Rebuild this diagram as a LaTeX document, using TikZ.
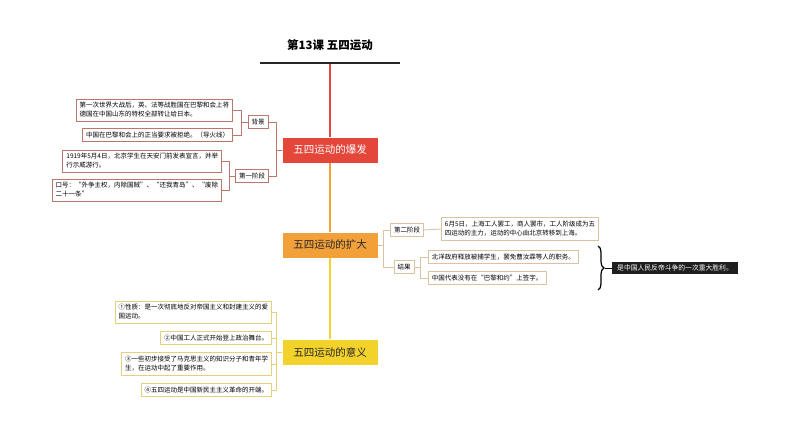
\documentclass[tikz,border=0pt]{standalone}
\usepackage{fontspec}
\setmainfont{Noto Sans CJK SC}
\usetikzlibrary{decorations.pathreplacing}
\definecolor{cred}{HTML}{E4473A}
\definecolor{corg}{HTML}{F2A13A}
\definecolor{cyel}{HTML}{F3D22C}
\definecolor{btan}{HTML}{D9C3A0}
\definecolor{bred}{HTML}{B8796A}
\definecolor{byel}{HTML}{E6D07A}
\begin{document}
\begin{tikzpicture}[x=1pt,y=-1pt,
  leaf/.style={draw=#1,line width=0.9pt,fill=white,font=\fontsize{6.5}{9}\selectfont,align=left,inner sep=3.5pt,anchor=east},
  tag/.style={draw=#1,line width=0.9pt,fill=white,font=\fontsize{6.5}{8}\selectfont,inner sep=3.5pt},
  main/.style={minimum width=95pt,minimum height=25pt,font=\fontsize{10.5}{12}\selectfont},
  con/.style={line width=0.9pt,draw=#1}]
\useasboundingbox (0,0) rectangle (794,425);
\node[font=\bfseries\fontsize{11.5}{12}\selectfont] (title) at (330,45) {第13课 五四运动};
\draw[line width=2.5pt,black!85] (260,63) -- (400,63);
\coordinate (top) at (330,64);
\node[main,fill=cred,text=white] (n1) at (330,150) {五四运动的爆发};
\node[main,fill=corg,text=black!85] (n2) at (330,245) {五四运动的扩大};
\node[main,fill=cyel,text=black!85] (n3) at (330,352) {五四运动的意义};
\draw[cred,line width=1.5pt] (top) -- (n1.north);
\draw[corg,line width=1.5pt] (n1.south) -- (n2.north);
\draw[cyel,line width=1.5pt] (n2.south) -- (n3.north);
% left of n1
\node[tag=bred] (bj) at (258,122) {背景};
\node[tag=bred] (s1) at (252,176) {第一阶段};
\node[leaf=bred] (l1) at (233,110) {第一次世界大战后，英、法等战胜国在巴黎和会上将\\德国在中国山东的特权全部转让给日本。};
\node[leaf=bred] (l2) at (233,135) {中国在巴黎和会上的正当要求被拒绝。（导火线）};
\node[leaf=bred] (l3) at (222,161) {1919年5月4日，北京学生在天安门前发表宣言，并举\\行示威游行。};
\node[leaf=bred] (l4) at (222,190) {口号：“外争主权，内除国贼”、“还我青岛”、“废除\\二十一条”};
\foreach \a/\b in {n1/bj,n1/s1}{\draw[con=bred] (\a.west) -- ++(-6,0) |- (\b.east);}
\foreach \a/\b in {bj/l1,bj/l2,s1/l3,s1/l4}{\draw[con=bred] (\a.west) -- ++(-6,0) |- (\b.east);}
% right of n2
\node[tag=btan] (s2) at (407,230) {第二阶段};
\node[tag=btan] (jg) at (404,267) {结果};
\node[leaf=btan,anchor=west] (r1) at (441,229) {6月5日，上海工人罢工，商人罢市，工人阶级成为五\\四运动的主力，运动的中心由北京转移到上海。};
\node[leaf=btan,anchor=west] (r2) at (428,257) {北洋政府释放被捕学生，罢免曹汝霖等人的职务。};
\node[leaf=btan,anchor=west] (r3) at (428,278) {中国代表没有在“巴黎和约”上签字。};
\foreach \b in {s2,jg}{\draw[con=btan] (n2.east) -- ++(6,0) |- (\b.west);}
\draw[con=btan] (s2.east) -- (r1.west);
\foreach \b in {r2,r3}{\draw[con=btan] (jg.east) -- ++(6,0) |- (\b.west);}
\draw[decorate,decoration={brace,amplitude=6pt},line width=1.2pt] (598,246) -- (598,290);
\node[fill=black!88,text=white,font=\fontsize{6.8}{8}\selectfont,inner xsep=5pt,inner ysep=2.5pt,anchor=west] (sum) at (612,268) {是中国人民反帝斗争的一次重大胜利。};
\coordinate (br) at (605,268);
\draw[line width=0.8pt] (br) -- (sum.west);
% left of n3
\node[leaf=byel] (y1) at (272,312) {①性质：是一次彻底地反对帝国主义和封建主义的爱\\国运动。};
\node[leaf=byel] (y2) at (272,338) {②中国工人正式开始登上政治舞台。};
\node[leaf=byel] (y3) at (272,364) {③一些初步接受了马克思主义的知识分子和青年学\\生，在运动中起了重要作用。};
\node[leaf=byel] (y4) at (272,390) {④五四运动是中国新民主主义革命的开端。};
\foreach \b in {y1,y2,y3,y4}{\draw[con=byel] (n3.west) -- ++(-6,0) |- (\b.east);}
\end{tikzpicture}
\end{document}
